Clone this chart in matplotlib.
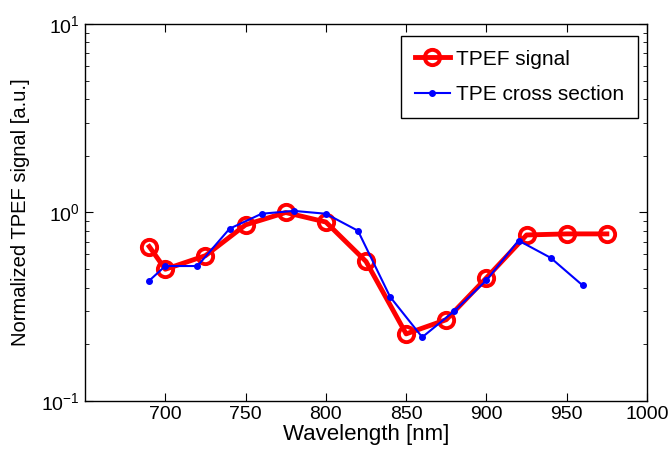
import numpy as np
import matplotlib.pyplot as plt
from matplotlib.ticker import LogLocator, NullFormatter

plt.rcParams['font.family'] = ['Liberation Sans', 'DejaVu Sans']

# TPEF signal (red)
tpef_nm = [690, 700, 725, 750, 775, 800, 825, 850, 875, 900, 925, 950, 975]
tpef_val = [0.66, 0.50, 0.59, 0.86, 1.00, 0.89, 0.55, 0.227, 0.27, 0.45, 0.76, 0.77, 0.77]

# TPE cross section (blue)
tpe_nm = [690, 700, 720, 740, 760, 780, 800, 820, 840, 860, 880, 900, 920, 940, 960]
tpe_val = [0.435, 0.52, 0.52, 0.82, 0.985, 1.02, 0.985, 0.80, 0.357, 0.218, 0.30, 0.437, 0.71, 0.575, 0.41]

fig = plt.figure(figsize=(6.71, 4.59), dpi=100)
ax = fig.add_axes([85 / 671, 1 - 401 / 459, 562 / 671, 377 / 459])

ax.plot(tpef_nm, tpef_val, '-o', color='red', lw=3.5, ms=11,
        mfc='none', mew=2.8, label='TPEF signal')
ax.plot(tpe_nm, tpe_val, '-', marker='.', color='blue', lw=1.5, ms=8,
        label='TPE cross section')

ax.set_yscale('log')
ax.set_xlim(650, 1000)
ax.set_ylim(0.1, 10)
ax.set_xticks(np.arange(700, 1001, 50))
ax.yaxis.set_minor_locator(LogLocator(base=10, subs=np.arange(2, 10)))
ax.yaxis.set_minor_formatter(NullFormatter())

ax.tick_params(which='both', direction='in', top=True, right=True, labelsize=14)
ax.tick_params(which='major', length=6)
ax.tick_params(which='minor', length=3)
for s in ax.spines.values():
    s.set_linewidth(1.0)

ax.set_xlabel('Wavelength [nm]', fontsize=16, labelpad=1)
ax.set_ylabel('Normalized TPEF signal [a.u.]', fontsize=14.5, labelpad=8)

leg = ax.legend(loc='upper right', fontsize=15, fancybox=False, framealpha=1,
                edgecolor='black', handlelength=1.7, handletextpad=0.3,
                borderpad=0.65, labelspacing=0.8, borderaxespad=0,
                bbox_to_anchor=(0.984, 0.968))
leg.get_frame().set_linewidth(1.0)

fig.savefig('out.png', dpi=100)
